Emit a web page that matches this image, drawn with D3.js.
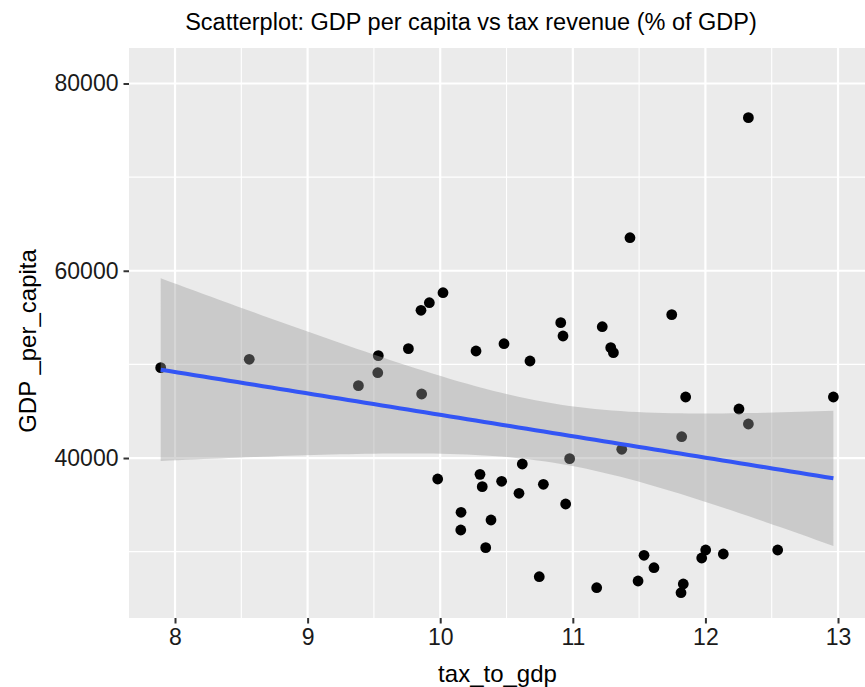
<!DOCTYPE html>
<html>
<head>
<meta charset="utf-8">
<script src="https://cdn.jsdelivr.net/npm/d3@7"></script>
<style>
  html, body { margin: 0; padding: 0; background: #ffffff; }
  svg { display: block; font-family: "Liberation Sans", Arial, Helvetica, sans-serif; }
</style>
</head>
<body>
<svg id="chart" width="865" height="687"></svg>
<script>
// Tax revenue (% of GDP) for each country
const taxToGdp = [
  7.892, 8.560, 9.383, 9.533, 9.529, 9.760, 9.855, 9.918, 10.021, 9.860,
  9.981, 10.270, 10.481, 10.300, 10.317, 10.463, 10.619, 10.594, 10.778, 10.946,
  10.976, 10.157, 10.155, 10.383, 10.343, 10.747, 11.180, 11.369, 11.821, 11.537,
  11.612, 11.492, 11.833, 11.816, 12.002, 11.972, 12.135, 12.545, 12.253, 12.324,
  11.851, 12.965, 12.324, 11.431, 10.677, 10.909, 10.926, 11.222, 11.286, 11.306,
  11.746
];
// GDP per capita for the same countries
const gdpPerCapita = [
  49650, 50545, 47725, 50930, 49113, 51677, 55778, 56589, 57657, 46840,
  37760, 51430, 52210, 38260, 36940, 37515, 39360, 36233, 37195, 35091,
  39929, 34204, 32314, 33382, 30424, 27326, 26151, 40933, 42278, 29612,
  28287, 26867, 26547, 25617, 30178, 29323, 29751, 30178, 45237, 43635,
  46518, 46518, 76348, 63530, 50363, 54454, 53033, 54026, 51784, 51250,
  55308
];

const xTicks = [8, 9, 10, 11, 12, 13];
const xMinor = [8.5, 9.5, 10.5, 11.5, 12.5];
const yTicks = [40000, 60000, 80000];
const yMinor = [30000, 50000, 70000];

const xLimits = [7.653, 13.211];
const yLimits = [22915, 83790];

const titleText = "Scatterplot: GDP per capita vs tax revenue (% of GDP)";
const xTitle = "tax_to_gdp";
const yTitle = "GDP _per_capita";

const panel = { left: 129, right: 866, top: 48, bottom: 618 };

const svg = d3.select("#chart");

const x = d3.scaleLinear().domain(xLimits).range([panel.left, panel.right]);
const y = d3.scaleLinear().domain(yLimits).range([panel.bottom, panel.top]);

// Panel background
svg.append("rect")
  .attr("x", panel.left).attr("y", panel.top)
  .attr("width", panel.right - panel.left)
  .attr("height", panel.bottom - panel.top)
  .attr("fill", "#EBEBEB");

const grid = svg.append("g");
// Minor grid
grid.selectAll(".xminor").data(xMinor).join("line")
  .attr("x1", d => x(d)).attr("x2", d => x(d))
  .attr("y1", panel.top).attr("y2", panel.bottom)
  .attr("stroke", "#ffffff").attr("stroke-width", 1.1);
grid.selectAll(".yminor").data(yMinor).join("line")
  .attr("y1", d => y(d)).attr("y2", d => y(d))
  .attr("x1", panel.left).attr("x2", panel.right)
  .attr("stroke", "#ffffff").attr("stroke-width", 1.1);
// Major grid
grid.selectAll(".xmajor").data(xTicks).join("line")
  .attr("x1", d => x(d)).attr("x2", d => x(d))
  .attr("y1", panel.top).attr("y2", panel.bottom)
  .attr("stroke", "#ffffff").attr("stroke-width", 2.2);
grid.selectAll(".ymajor").data(yTicks).join("line")
  .attr("y1", d => y(d)).attr("y2", d => y(d))
  .attr("x1", panel.left).attr("x2", panel.right)
  .attr("stroke", "#ffffff").attr("stroke-width", 2.2);

// Points
const pts = taxToGdp.map((v, i) => ({ x: v, y: gdpPerCapita[i] }));
svg.append("g").selectAll("circle").data(pts).join("circle")
  .attr("cx", d => x(d.x)).attr("cy", d => y(d.y))
  .attr("r", 5.4).attr("fill", "#000000");

// Linear fit with 95% confidence band
const n = pts.length;
const mx = d3.mean(pts, d => d.x);
const my = d3.mean(pts, d => d.y);
const sxx = d3.sum(pts, d => (d.x - mx) ** 2);
const sxy = d3.sum(pts, d => (d.x - mx) * (d.y - my));
const slope = sxy / sxx;
const intercept = my - slope * mx;
const sse = d3.sum(pts, d => (d.y - (intercept + slope * d.x)) ** 2);
const s = Math.sqrt(sse / (n - 2));
const tCrit = 2.0096; // t(0.975, df = 49)

const [xmin, xmax] = d3.extent(taxToGdp);
const fit = d3.range(80).map(i => {
  const xv = xmin + (xmax - xmin) * i / 79;
  const yv = intercept + slope * xv;
  const se = s * Math.sqrt(1 / n + (xv - mx) ** 2 / sxx);
  return { x: xv, y: yv, lo: yv - tCrit * se, hi: yv + tCrit * se };
});

svg.append("path").datum(fit)
  .attr("d", d3.area().x(d => x(d.x)).y0(d => y(d.lo)).y1(d => y(d.hi)))
  .attr("fill", "#999999").attr("fill-opacity", 0.4);

svg.append("path").datum(fit)
  .attr("d", d3.line().x(d => x(d.x)).y(d => y(d.y)))
  .attr("fill", "none").attr("stroke", "#3355F5").attr("stroke-width", 4);

// Axes
const xAxis = svg.append("g")
  .attr("transform", `translate(0,${panel.bottom})`)
  .call(d3.axisBottom(x).tickValues(xTicks).tickSize(5.5).tickPadding(5).tickFormat(d3.format("d")));
const yAxis = svg.append("g")
  .attr("transform", `translate(${panel.left},0)`)
  .call(d3.axisLeft(y).tickValues(yTicks).tickSize(5.5).tickPadding(5).tickFormat(d3.format("d")));

[xAxis, yAxis].forEach(g => {
  g.select(".domain").remove();
  g.selectAll(".tick line").attr("stroke", "#333333").attr("stroke-width", 2);
  g.selectAll(".tick text")
    .attr("fill", "#1a1a1a")
    .style("font-size", "23px")
    .style("font-family", "'Liberation Sans', Arial, sans-serif");
});

// Titles
svg.append("text")
  .attr("x", 471).attr("y", 30)
  .attr("text-anchor", "middle")
  .style("font-size", "23.5px")
  .attr("fill", "#000000")
  .text(titleText);

svg.append("text")
  .attr("x", (panel.left + panel.right) / 2).attr("y", 682)
  .attr("text-anchor", "middle")
  .style("font-size", "24px")
  .attr("fill", "#000000")
  .text(xTitle);

svg.append("text")
  .attr("transform", `translate(36,${(panel.top + panel.bottom) / 2 + 8}) rotate(-90)`)
  .attr("text-anchor", "middle")
  .style("font-size", "24px")
  .attr("fill", "#000000")
  .text(yTitle);
</script>
</body>
</html>
